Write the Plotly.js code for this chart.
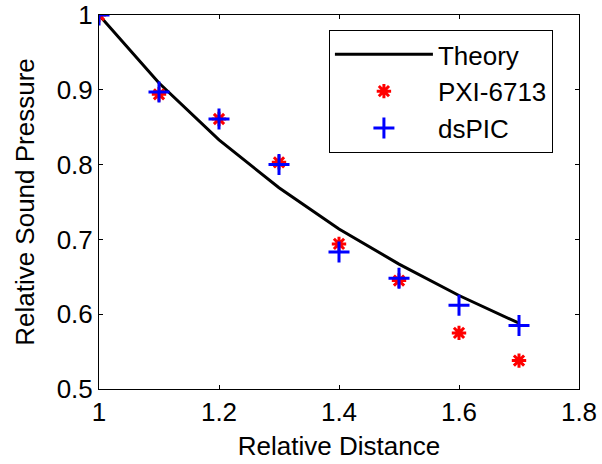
<!DOCTYPE html>
<html>
<head>
<meta charset="utf-8">
<script src="https://cdn.plot.ly/plotly-3.0.1.min.js"></script>
<style>html,body{margin:0;padding:0;background:#fff;}#chart{width:602px;height:464px;}</style>
</head>
<body>
<div id="chart"></div>
<script>
const distance = [1.0, 1.1, 1.2, 1.3, 1.4, 1.5, 1.6, 1.7];
const theory = [1.0, 0.909, 0.833, 0.769, 0.714, 0.667, 0.625, 0.588];
const pxi6713 = [1.0, 0.894, 0.861, 0.803, 0.694, 0.645, 0.575, 0.538];
const dspic = [1.0, 0.897, 0.861, 0.800, 0.683, 0.648, 0.612, 0.585];
const xTicks = [1, 1.2, 1.4, 1.6, 1.8];
const yTicks = [0.5, 0.6, 0.7, 0.8, 0.9, 1];

const font = {family: 'Liberation Sans, Arial, sans-serif', size: 26, color: '#000'};

const traces = [
  {x: distance, y: theory, mode: 'lines', name: 'Theory', legendgroup: 'a',
   line: {color: '#000', width: 3}},
  {x: distance, y: pxi6713, mode: 'markers', name: 'PXI-6713', legendgroup: 'b',
   marker: {symbol: 'asterisk-open', size: 12, color: '#ff0000', line: {color: '#ff0000', width: 3}}},
  {x: distance, y: dspic, mode: 'markers', name: 'dsPIC', legendgroup: 'c',
   marker: {symbol: 'cross-thin-open', size: 15, color: '#0000ff', line: {color: '#0000ff', width: 3}}}
];

const axisCommon = {
  showgrid: false, zeroline: false, showline: true, linecolor: '#000', linewidth: 1,
  mirror: 'ticks', ticks: 'inside', ticklen: 4, tickcolor: '#000', tickfont: font
};

const layout = {
  width: 602, height: 464,
  margin: {l: 99, r: 23, t: 15, b: 75},
  paper_bgcolor: '#fff', plot_bgcolor: '#fff',
  font: font,
  showlegend: true,
  xaxis: Object.assign({}, axisCommon, {
    range: [1, 1.8], tickvals: xTicks, ticktext: xTicks.map(String),
    title: {text: 'Relative Distance', font: font, standoff: 10}
  }),
  yaxis: Object.assign({}, axisCommon, {
    range: [0.5, 1], tickvals: yTicks, ticktext: yTicks.map(String),
    title: {text: 'Relative Sound Pressure', font: font, standoff: 14}
  }),
  legend: {
    x: 0.479, y: 0.96, xanchor: 'left', yanchor: 'top',
    bordercolor: '#000', borderwidth: 1, bgcolor: '#fff',
    font: font, traceorder: 'grouped', tracegroupgap: 0, itemwidth: 98,
    entrywidth: 238
  }
};

Plotly.newPlot('chart', traces, layout, {displayModeBar: false, staticPlot: true});
</script>
</body>
</html>
